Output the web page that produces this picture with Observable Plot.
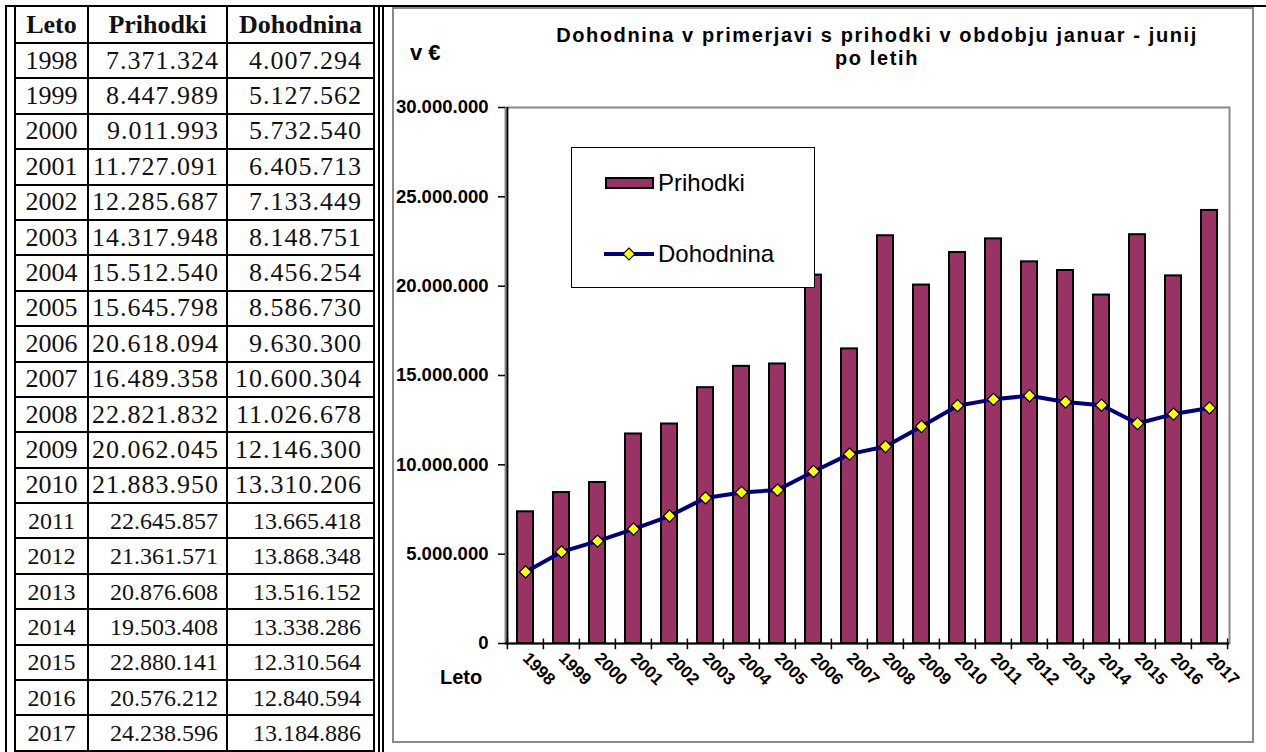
<!DOCTYPE html>
<html><head><meta charset="utf-8">
<script src="https://cdn.jsdelivr.net/npm/d3@7"></script>
<script src="https://cdn.jsdelivr.net/npm/@observablehq/plot@0.6"></script>
<style>
html,body{margin:0;padding:0;background:#fff;}
body{width:1266px;height:752px;overflow:hidden;position:relative;}
.ln{position:absolute;background:#000;}
#tbl{position:absolute;left:14px;top:5px;width:361px;border-collapse:collapse;table-layout:fixed;font-family:"Liberation Serif","Times New Roman",serif;color:#111;}
#tbl td{border:2px solid #000;padding:0;height:33.4px;line-height:30px;font-size:26px;white-space:nowrap;overflow:hidden;}
#tbl tr.hd td{height:35px;font-weight:bold;text-align:center;}
#tbl tr.sm td{font-size:24px;}
#tbl td.c0{text-align:center;}
#tbl td.c1{text-align:right;padding-right:7px;letter-spacing:1px;}
#tbl td.c2{text-align:right;padding-right:11px;letter-spacing:1px;}
#tbl tr.sm td.c1{padding-right:8px;letter-spacing:0;}
#tbl tr.sm td.c2{padding-right:12px;letter-spacing:0;}
#tbl tr.hd td.c1,#tbl tr.hd td.c2{letter-spacing:0;padding-right:0;text-align:center;}
#chart{position:absolute;left:392px;top:7px;width:862px;height:736px;}
#chart svg.plotsvg{position:absolute;left:0;top:0;}
#chart svg.plotsvg text{font-weight:bold;}
#frame{position:absolute;left:0;top:0;width:862px;height:736px;box-sizing:border-box;border:2px solid #8a8a8a;pointer-events:none;}
.ct{position:absolute;font-family:"Liberation Sans",Arial,sans-serif;font-weight:bold;color:#000;white-space:nowrap;}
.title{left:60px;width:850px;text-align:center;font-size:20px;line-height:22px;height:22px;letter-spacing:1.6px;}
#unit{left:18px;top:33px;font-size:22px;}
#xlab{left:48px;top:659px;font-size:20px;}
#legend{position:absolute;left:179px;top:140px;width:244px;height:141px;box-sizing:border-box;border:1.5px solid #000;background:#fff;font-family:"Liberation Sans",Arial,sans-serif;font-size:24px;}
.lgi{position:absolute;left:30px;height:28px;display:flex;align-items:center;}
.lgi svg{display:block;}
.lgi span{margin-left:2px;}
</style></head>
<body>
<div class="ln" style="left:5px;top:5px;width:1261px;height:2px"></div>
<div class="ln" style="left:5px;top:5px;width:2px;height:747px"></div>
<div class="ln" style="left:378px;top:5px;width:2px;height:747px"></div>
<div class="ln" style="left:382px;top:5px;width:2px;height:747px"></div>
<table id="tbl"><colgroup><col style="width:73px"><col style="width:139px"><col style="width:147px"></colgroup><tbody></tbody></table>
<div id="chart"></div>
<script>
const headers = ["Leto", "Prihodki", "Dohodnina"];
const years = ["1998","1999","2000","2001","2002","2003","2004","2005","2006","2007","2008","2009","2010","2011","2012","2013","2014","2015","2016","2017"];
const prihodki = [7371324, 8447989, 9011993, 11727091, 12285687, 14317948, 15512540, 15645798, 20618094, 16489358, 22821832, 20062045, 21883950, 22645857, 21361571, 20876608, 19503408, 22880141, 20576212, 24238596];
const dohodnina = [4007294, 5127562, 5732540, 6405713, 7133449, 8148751, 8456254, 8586730, 9630300, 10600304, 11026678, 12146300, 13310206, 13665418, 13868348, 13516152, 13338286, 12310564, 12840594, 13184886];
const yTicks = [0, 5000000, 10000000, 15000000, 20000000, 25000000, 30000000];
const chartTitle = ["Dohodnina v primerjavi s prihodki v obdobju januar - junij", "po letih"];
const unitLabel = "v €";
const xLabel = "Leto";
const seriesNames = ["Prihodki", "Dohodnina"];

const fmt = v => d3.format(",")(v).replace(/,/g, ".");

// table
const tb = document.querySelector("#tbl tbody");
const hr = document.createElement("tr"); hr.className = "hd";
headers.forEach((h, j) => { const td = document.createElement("td"); td.className = "c" + j; td.textContent = h; hr.appendChild(td); });
tb.appendChild(hr);
years.forEach((y, i) => {
  const tr = document.createElement("tr");
  if (+y >= 2011) tr.className = "sm";
  [y, fmt(prihodki[i]), fmt(dohodnina[i])].forEach((v, j) => {
    const td = document.createElement("td"); td.className = "c" + j; td.textContent = v; tr.appendChild(td);
  });
  tb.appendChild(tr);
});

// chart
const data = years.map((y, i) => ({year: y, prihodki: prihodki[i], dohodnina: dohodnina[i]}));
const W = 862, H = 736, mL = 113, mR = 25, mT = 100, mB = 100;
const step = (W - mL - mR) / years.length;
const chart = Plot.plot({
  width: W, height: H, marginLeft: mL, marginRight: mR, marginTop: mT, marginBottom: mB,
  style: {fontFamily: "'Liberation Sans', Arial, sans-serif", background: "transparent", color: "#000"},
  x: {type: "band", domain: years, paddingInner: 0.56, paddingOuter: 0.28, label: null},
  y: {domain: [0, 30000000], label: null},
  marks: [
    Plot.frame({stroke: "#8a8a8a", strokeWidth: 2}),
    Plot.barY(data, {x: "year", y: "prihodki", fill: "#993366", stroke: "#000", strokeWidth: 2}),
    Plot.line(data, {x: "year", y: "dohodnina", stroke: "#000080", strokeWidth: 4}),
    Plot.dot(data, {x: "year", y: "dohodnina", symbol: "diamond2", r: 5.5, fill: "#ffff00", stroke: "#000", strokeWidth: 1.2}),
    Plot.ruleY([0], {stroke: "#000", strokeWidth: 2}),
    Plot.ruleX([years[0]], {dx: -step / 2, y1: 0, y2: 30000000, stroke: "#000", strokeWidth: 2}),
    Plot.ruleX(years, {dx: -step / 2, y1: -350000, y2: 250000, stroke: "#000", strokeWidth: 1.5}),
    Plot.ruleX([years[years.length - 1]], {dx: step / 2, y1: -350000, y2: 250000, stroke: "#000", strokeWidth: 1.5}),
    Plot.axisY({ticks: yTicks, tickFormat: fmt, tickSize: 7, tickPadding: 10, fontSize: 18.5, stroke: "#000", strokeWidth: 1.5, label: null}),
    Plot.axisX({tickSize: 0, tickRotate: 45, tickPadding: 12, fontSize: 17, label: null})
  ]
});
chart.classList.add("plotsvg");
const host = document.getElementById("chart");
host.appendChild(chart);

chartTitle.forEach((s, i) => {
  const t = document.createElement("div"); t.className = "ct title";
  t.style.top = (17 + i * 22.6) + "px"; t.textContent = s; host.appendChild(t);
});
const u = document.createElement("div"); u.className = "ct"; u.id = "unit"; u.textContent = unitLabel; host.appendChild(u);
const xl = document.createElement("div"); xl.className = "ct"; xl.id = "xlab"; xl.textContent = xLabel; host.appendChild(xl);

// legend
const lg = document.createElement("div"); lg.id = "legend";
lg.innerHTML = `
<div class="lgi" style="top:21px"><svg width="54" height="28"><rect x="4" y="9" width="47" height="10" fill="#993366" stroke="#000" stroke-width="2"/></svg><span>${seriesNames[0]}</span></div>
<div class="lgi" style="top:92px"><svg width="54" height="28"><line x1="2" x2="52" y1="14" y2="14" stroke="#000080" stroke-width="4"/><path d="M27,8L33,14L27,20L21,14Z" fill="#ffff00" stroke="#000" stroke-width="1.2"/></svg><span>${seriesNames[1]}</span></div>`;
host.appendChild(lg);
const fr = document.createElement("div"); fr.id = "frame"; host.appendChild(fr);
</script>
</body></html>
